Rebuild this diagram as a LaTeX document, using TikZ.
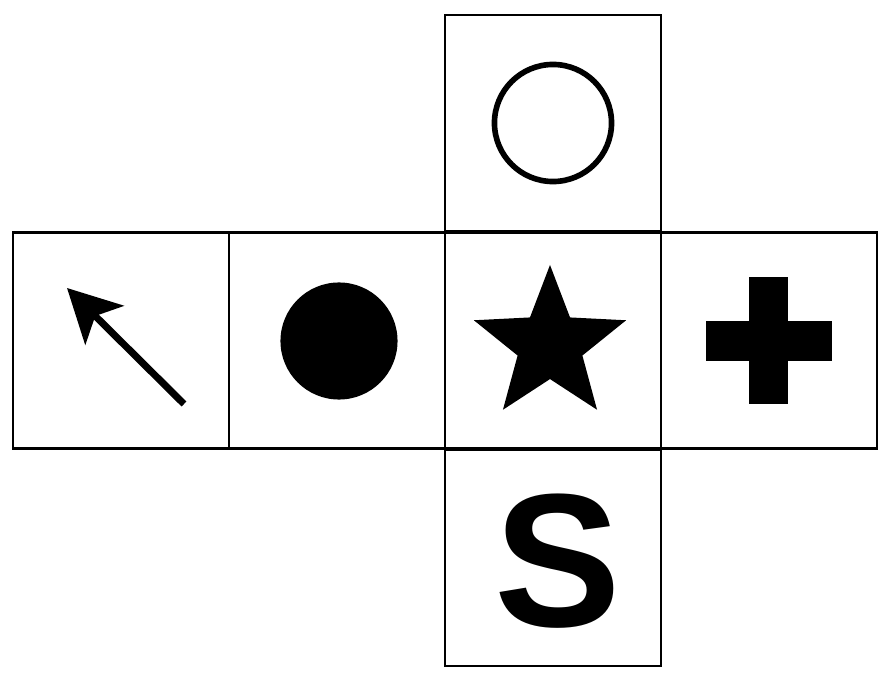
\documentclass[tikz,border=0pt]{standalone}
\usepackage{fontspec}
\setmainfont{Liberation Sans}
\usetikzlibrary{arrows.meta,shapes.geometric}
\begin{document}
\begin{tikzpicture}[
    x=0.01cm, y=-0.01cm,
    face/.style={draw, rectangle, minimum size=2.16cm, inner sep=0pt, line width=0.7pt},
    symb/.style={circle, minimum size=1.17cm, inner sep=0pt},
    pointer/.style={line width=2pt, -{Stealth[length=15pt, width=15.5pt, inset=3.7pt]}}
]
    \useasboundingbox (0,0) rectangle (878,679);

    % Faces of the cube net
    \node[face] (top) at (553,123) {};
    \foreach \name/\x in {left/121,midl/337,centre/553,right/769} {
        \node[face] (\name) at (\x,340.5) {};
    }
    \node[face] (bottom) at (553,558) {};

    % Hollow circle (top face)
    \node[symb, draw, line width=1.6pt] (ring) at (553,123) {};

    % Filled circle
    \node[symb, fill] (dot) at (339,341) {};

    % Star
    \node[fill, star, star points=5, star point ratio=2.35, minimum size=1.6cm, inner sep=0pt] (star) at (550,345) {};

    % Cross
    \fill (749,277) rectangle (788,404);
    \fill (706,321) rectangle (832,361);

    % Arrow
    \coordinate (tail) at (184,404);
    \coordinate (tip) at (67,288);
    \draw[pointer] (tail) -- (tip);

    % Letter (bottom face)
    \node[font=\fontsize{54}{54}\selectfont\bfseries, inner sep=0pt] (letter) at (558,561) {S};

\end{tikzpicture}
\end{document}
